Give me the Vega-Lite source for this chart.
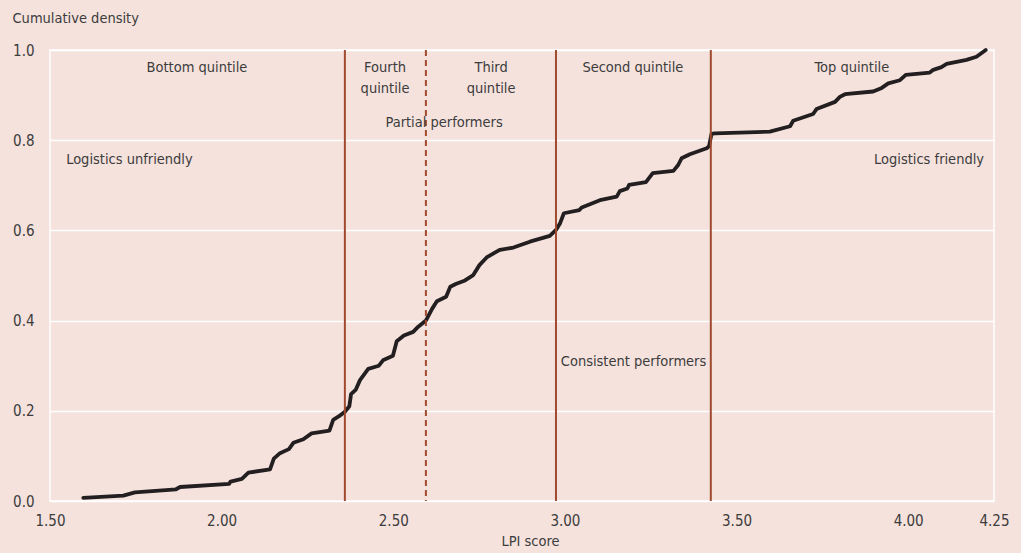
{
  "$schema": "https://vega.github.io/schema/vega-lite/v6.json",
  "width": 944,
  "height": 451,
  "autosize": {"type": "none"},
  "padding": {"left": 50, "top": 50, "right": 27, "bottom": 52},
  "background": "#F5E2DD",
  "config": {
    "view": {"stroke": "#FFFFFF", "strokeWidth": 1.5, "fill": "#F5E2DD"},
    "font": "'DejaVu Sans Condensed', Roboto, sans-serif",
    "axis": {
      "domain": false,
      "ticks": false,
      "tickSize": 0,
      "grid": true,
      "gridColor": "#FFFFFF",
      "gridWidth": 1.5,
      "gridOpacity": 1,
      "labelFont": "'DejaVu Sans Condensed', Roboto, sans-serif",
      "labelFontSize": 15,
      "labelColor": "#3C3C3C",
      "labelFlush": false,
      "titleFont": "'DejaVu Sans Condensed', Roboto, sans-serif",
      "titleFontSize": 14.5,
      "titleFontWeight": "normal",
      "titleColor": "#3C3C3C"
    }
  },
  "datasets": {
    "curve": [
      {"lpi": 1.597, "density": 0.007},
      {"lpi": 1.7135, "density": 0.012},
      {"lpi": 1.7476, "density": 0.019},
      {"lpi": 1.867, "density": 0.026},
      {"lpi": 1.879, "density": 0.031},
      {"lpi": 2.022, "density": 0.038},
      {"lpi": 2.026, "density": 0.043},
      {"lpi": 2.059, "density": 0.049},
      {"lpi": 2.078, "density": 0.063},
      {"lpi": 2.141, "density": 0.07},
      {"lpi": 2.152, "density": 0.094},
      {"lpi": 2.17, "density": 0.106},
      {"lpi": 2.196, "density": 0.115},
      {"lpi": 2.209, "density": 0.129},
      {"lpi": 2.238, "density": 0.137},
      {"lpi": 2.262, "density": 0.15},
      {"lpi": 2.314, "density": 0.156},
      {"lpi": 2.325, "density": 0.18},
      {"lpi": 2.342, "density": 0.188},
      {"lpi": 2.359, "density": 0.198},
      {"lpi": 2.372, "density": 0.21},
      {"lpi": 2.377, "density": 0.237},
      {"lpi": 2.391, "density": 0.247},
      {"lpi": 2.403, "density": 0.268},
      {"lpi": 2.427, "density": 0.293},
      {"lpi": 2.458, "density": 0.3},
      {"lpi": 2.47, "density": 0.312},
      {"lpi": 2.499, "density": 0.322},
      {"lpi": 2.51, "density": 0.354},
      {"lpi": 2.531, "density": 0.367},
      {"lpi": 2.558, "density": 0.375},
      {"lpi": 2.572, "density": 0.386},
      {"lpi": 2.595, "density": 0.4},
      {"lpi": 2.613, "density": 0.426},
      {"lpi": 2.627, "density": 0.443},
      {"lpi": 2.654, "density": 0.453},
      {"lpi": 2.666, "density": 0.475},
      {"lpi": 2.682, "density": 0.481},
      {"lpi": 2.709, "density": 0.489},
      {"lpi": 2.733, "density": 0.501},
      {"lpi": 2.751, "density": 0.523},
      {"lpi": 2.772, "density": 0.54},
      {"lpi": 2.801, "density": 0.553},
      {"lpi": 2.811, "density": 0.557},
      {"lpi": 2.85, "density": 0.562},
      {"lpi": 2.898, "density": 0.575},
      {"lpi": 2.956, "density": 0.588},
      {"lpi": 2.974, "density": 0.601},
      {"lpi": 2.986, "density": 0.616},
      {"lpi": 2.997, "density": 0.638},
      {"lpi": 3.042, "density": 0.645},
      {"lpi": 3.049, "density": 0.651},
      {"lpi": 3.102, "density": 0.667},
      {"lpi": 3.151, "density": 0.675},
      {"lpi": 3.16, "density": 0.687},
      {"lpi": 3.182, "density": 0.693},
      {"lpi": 3.187, "density": 0.701},
      {"lpi": 3.236, "density": 0.707},
      {"lpi": 3.256, "density": 0.727},
      {"lpi": 3.316, "density": 0.732},
      {"lpi": 3.33, "density": 0.745},
      {"lpi": 3.34, "density": 0.76},
      {"lpi": 3.364, "density": 0.769},
      {"lpi": 3.413, "density": 0.782},
      {"lpi": 3.42, "density": 0.787},
      {"lpi": 3.427, "density": 0.814},
      {"lpi": 3.437, "density": 0.815},
      {"lpi": 3.597, "density": 0.819},
      {"lpi": 3.656, "density": 0.831},
      {"lpi": 3.665, "density": 0.843},
      {"lpi": 3.723, "density": 0.858},
      {"lpi": 3.733, "density": 0.869},
      {"lpi": 3.787, "density": 0.885},
      {"lpi": 3.801, "density": 0.896},
      {"lpi": 3.816, "density": 0.902},
      {"lpi": 3.898, "density": 0.908},
      {"lpi": 3.923, "density": 0.916},
      {"lpi": 3.942, "density": 0.926},
      {"lpi": 3.976, "density": 0.933},
      {"lpi": 3.993, "density": 0.945},
      {"lpi": 4.063, "density": 0.95},
      {"lpi": 4.073, "density": 0.956},
      {"lpi": 4.097, "density": 0.962},
      {"lpi": 4.112, "density": 0.969},
      {"lpi": 4.17, "density": 0.978},
      {"lpi": 4.199, "density": 0.985},
      {"lpi": 4.226, "density": 1.0}
    ],
    "cutoffs": [
      {"lpi": 2.359, "kind": "solid"},
      {"lpi": 2.595, "kind": "dashed"},
      {"lpi": 2.974, "kind": "solid"},
      {"lpi": 3.425, "kind": "solid"}
    ],
    "labels": [
      {"lpi": 1.928, "density": 0.96, "text": "Bottom quintile", "pos": "center"},
      {"lpi": 2.476, "density": 0.96, "text": "Fourth", "pos": "center"},
      {"lpi": 2.476, "density": 0.9135, "text": "quintile", "pos": "center"},
      {"lpi": 2.785, "density": 0.96, "text": "Third", "pos": "center"},
      {"lpi": 2.785, "density": 0.9135, "text": "quintile", "pos": "center"},
      {"lpi": 2.648, "density": 0.838, "text": "Partial performers", "pos": "center"},
      {"lpi": 3.198, "density": 0.96, "text": "Second quintile", "pos": "center"},
      {"lpi": 3.836, "density": 0.96, "text": "Top quintile", "pos": "center"},
      {"lpi": 1.547, "density": 0.756, "text": "Logistics unfriendly", "pos": "left"},
      {"lpi": 2.988, "density": 0.308, "text": "Consistent performers", "pos": "left"},
      {"lpi": 4.221, "density": 0.756, "text": "Logistics friendly", "pos": "right"}
    ]
  },
  "layer": [
    {
      "data": {"name": "curve"},
      "mark": {"type": "line", "color": "#231F20", "strokeWidth": 3.8, "strokeJoin": "round", "strokeCap": "round", "interpolate": "linear"},
      "encoding": {
        "x": {
          "field": "lpi", "type": "quantitative",
          "scale": {"domain": [1.5, 4.25], "nice": false, "zero": false},
          "axis": {
            "values": [1.5, 2, 2.5, 3, 3.5, 4, 4.25],
            "format": ".2f",
            "grid": false,
            "labelPadding": 12,
            "title": "LPI score",
            "titleX": 480,
            "titleY": 40,
            "titleBaseline": "middle",
            "titleAnchor": "middle"
          }
        },
        "y": {
          "field": "density", "type": "quantitative",
          "scale": {"domain": [0, 1], "nice": false},
          "axis": {
            "values": [0, 0.2, 0.4, 0.6, 0.8, 1.0],
            "format": ".1f",
            "labelPadding": 16,
            "title": "Cumulative density",
            "titleAngle": 0,
            "titleX": -38,
            "titleY": -32,
            "titleAlign": "left",
            "titleBaseline": "middle"
          }
        }
      }
    },
    {
      "data": {"name": "cutoffs"},
      "transform": [{"filter": "datum.kind === 'solid'"}],
      "mark": {"type": "rule", "color": "#A04A2E", "strokeWidth": 2},
      "encoding": {"x": {"field": "lpi", "type": "quantitative"}}
    },
    {
      "data": {"name": "cutoffs"},
      "transform": [{"filter": "datum.kind === 'dashed'"}],
      "mark": {"type": "rule", "color": "#A04A2E", "strokeWidth": 2, "strokeDash": [6, 4]},
      "encoding": {"x": {"field": "lpi", "type": "quantitative"}}
    },
    {
      "data": {"name": "labels"},
      "transform": [{"filter": "datum.pos === 'center'"}],
      "mark": {"type": "text", "align": "center", "baseline": "middle", "fontSize": 14.5, "color": "#3C3C3C"},
      "encoding": {
        "x": {"field": "lpi", "type": "quantitative"},
        "y": {"field": "density", "type": "quantitative"},
        "text": {"field": "text"}
      }
    },
    {
      "data": {"name": "labels"},
      "transform": [{"filter": "datum.pos === 'left'"}],
      "mark": {"type": "text", "align": "left", "baseline": "middle", "fontSize": 14.5, "color": "#3C3C3C"},
      "encoding": {
        "x": {"field": "lpi", "type": "quantitative"},
        "y": {"field": "density", "type": "quantitative"},
        "text": {"field": "text"}
      }
    },
    {
      "data": {"name": "labels"},
      "transform": [{"filter": "datum.pos === 'right'"}],
      "mark": {"type": "text", "align": "right", "baseline": "middle", "fontSize": 14.5, "color": "#3C3C3C"},
      "encoding": {
        "x": {"field": "lpi", "type": "quantitative"},
        "y": {"field": "density", "type": "quantitative"},
        "text": {"field": "text"}
      }
    }
  ]
}
